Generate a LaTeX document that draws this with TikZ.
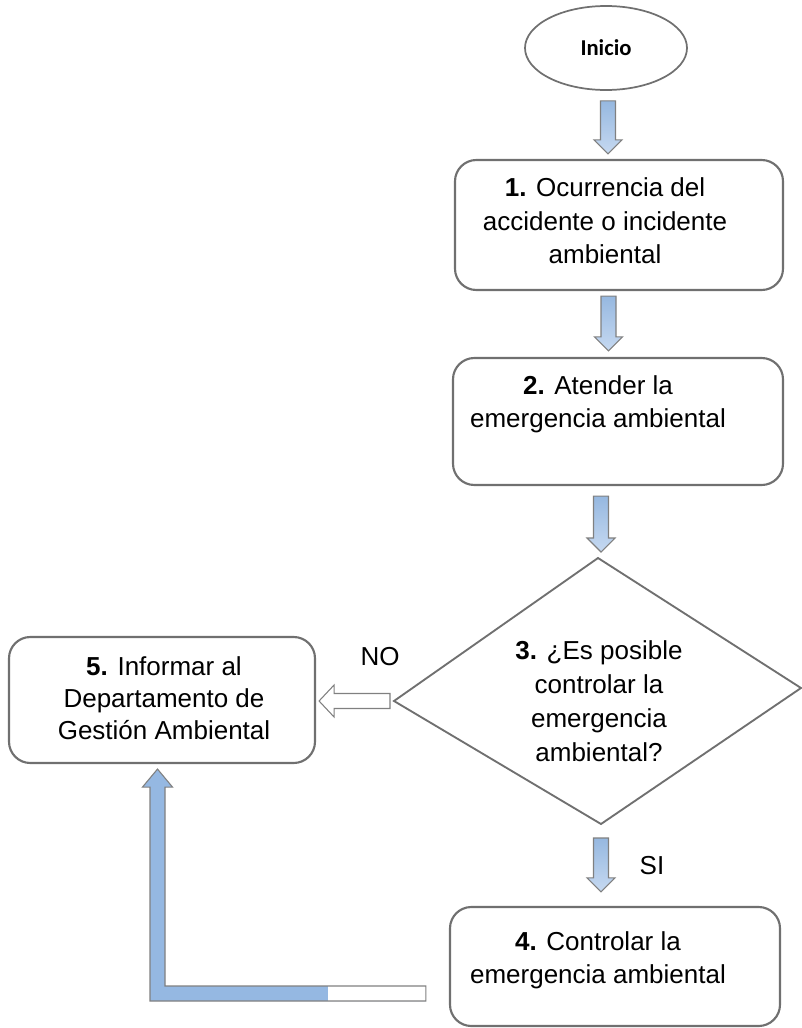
\documentclass[tikz,border=0pt]{standalone}
\usepackage{fontspec}
\setmainfont{Liberation Sans}
\newfontfamily\calibri{Carlito}
\usetikzlibrary{shapes.geometric,calc}
\definecolor{edge}{RGB}{112,112,112}
\definecolor{arrowedge}{RGB}{128,128,128}
\definecolor{bluetop}{RGB}{150,184,224}
\definecolor{bluebot}{RGB}{198,217,241}
\definecolor{bluesolid}{RGB}{149,184,226}
\newcommand\downblock[2]{%
  \path[barrow, top color=bluetop, bottom color=bluebot]
   ($(#1)+(-7.5,0)$) -- ($(#2)+(-7.5,-14)$) -- ($(#2)+(-14,-14)$) -- (#2)
   -- ($(#2)+(14,-14)$) -- ($(#2)+(7.5,-14)$) -- ($(#1)+(7.5,0)$) -- cycle;}
\begin{document}
\begin{tikzpicture}[x=0.75pt,y=-0.75pt,
  box/.style={draw=edge, line width=1.6pt, rounded corners=16pt, inner sep=0pt},
  txt/.style={align=center, inner sep=0pt, font=\fontsize{19.5}{25}\selectfont},
  barrow/.style={draw=arrowedge, line width=0.8pt, line join=miter}]
\useasboundingbox (0,0) rectangle (802,1028);
% nodes
\node[ellipse, draw=edge, line width=1.3pt, minimum width=121.5pt, minimum height=63pt, inner sep=0pt]
  (inicio) at (606,48) {\calibri\bfseries\fontsize{17}{20}\selectfont Inicio};
\node[box, minimum width=246pt, minimum height=97.5pt] (b1) at (619,225) {};
\node[txt] (t1) at (605,221) {\textbf{1.} Ocurrencia del\\accidente o incidente\\ambiental};
\node[box, minimum width=247.5pt, minimum height=95.25pt] (b2) at (618,421.5) {};
\node[txt] (t2) at (598,404) {\textbf{2.} Atender la\\emergencia ambiental};
% decision (slightly skewed diamond)
\coordinate (dtop) at (598,558);
\coordinate (dright) at (801,688);
\coordinate (dbottom) at (601,824);
\coordinate (dleft) at (394,701);
\draw[edge, line width=1.4pt, line join=miter] (dtop) -- (dright) -- (dbottom) -- (dleft) -- cycle;
\node[txt, font=\fontsize{19.5}{25.5}\selectfont] (t3) at (599,701) {\textbf{3.} ¿Es posible\\controlar la\\emergencia\\ambiental?};
\node[box, minimum width=229.5pt, minimum height=94.5pt] (b5) at (162,700) {};
\node[txt, font=\fontsize{19.5}{24}\selectfont] (t5) at (164,698) {\textbf{5.} Informar al\\Departamento de\\Gestión Ambiental};
\node[box, minimum width=247.5pt, minimum height=89.25pt] (b4) at (615,966.5) {};
\node[txt] (t4) at (598,960) {\textbf{4.} Controlar la\\emergencia ambiental};
\node[txt] (no) at (380,657) {NO};
\node[txt] (si) at (652,866) {SI};
% block arrows
\coordinate (a1s) at ($(inicio.south)+(2,10)$);
\coordinate (a1e) at ($(a1s |- b1.north)+(0,-5)$);
\downblock{a1s}{a1e}
\coordinate (a2s) at ($(b1.south)+(-10.5,5)$);
\coordinate (a2e) at ($(a2s |- b2.north)+(0,-6)$);
\downblock{a2s}{a2e}
\coordinate (a3s) at ($(b2.south)+(-17,10)$);
\coordinate (a3e) at ($(a3s |- dtop)+(0,-6)$);
\downblock{a3s}{a3e}
\coordinate (a4s) at ($(dbottom)+(0,14)$);
\coordinate (a4e) at ($(a4s |- b4.north)+(0,-14)$);
\downblock{a4s}{a4e}
% NO arrow (hollow, pointing left)
\coordinate (ns) at ($(dleft)+(-4,0)$);
\coordinate (ne) at ($(ns -| b5.east)+(3,0)$);
\path[barrow, fill=white]
  ($(ns)+(0,-7.5)$) -- ($(ne)+(15,-7.5)$) -- ($(ne)+(15,-16)$) -- (ne)
  -- ($(ne)+(15,16)$) -- ($(ne)+(15,7.5)$) -- ($(ns)+(0,7.5)$) -- cycle;
% L arrow from box 4 to box 5
\coordinate (lt) at ($(b5.south)+(-4.5,5)$);
\coordinate (lr) at ($(b4.west)+(-23,27)$);
\path[fill=bluesolid]
  (lt) -- ($(lt)+(15,18)$) -- ($(lt)+(7.5,18)$) -- ($(lt |- lr)+(7.5,-7.5)$)
  -- ($(lr)+(0,-7.5)$) -- ($(lr)+(0,7.5)$) -- ($(lt |- lr)+(-7.5,7.5)$)
  -- ($(lt)+(-7.5,18)$) -- ($(lt)+(-15,18)$) -- cycle;
\fill[white] ($(lr)+(-98,-7.5)$) rectangle ($(lr)+(0,7.5)$);
\path[barrow]
  (lt) -- ($(lt)+(15,18)$) -- ($(lt)+(7.5,18)$) -- ($(lt |- lr)+(7.5,-7.5)$)
  -- ($(lr)+(0,-7.5)$) -- ($(lr)+(0,7.5)$) -- ($(lt |- lr)+(-7.5,7.5)$)
  -- ($(lt)+(-7.5,18)$) -- ($(lt)+(-15,18)$) -- cycle;
\end{tikzpicture}
\end{document}
